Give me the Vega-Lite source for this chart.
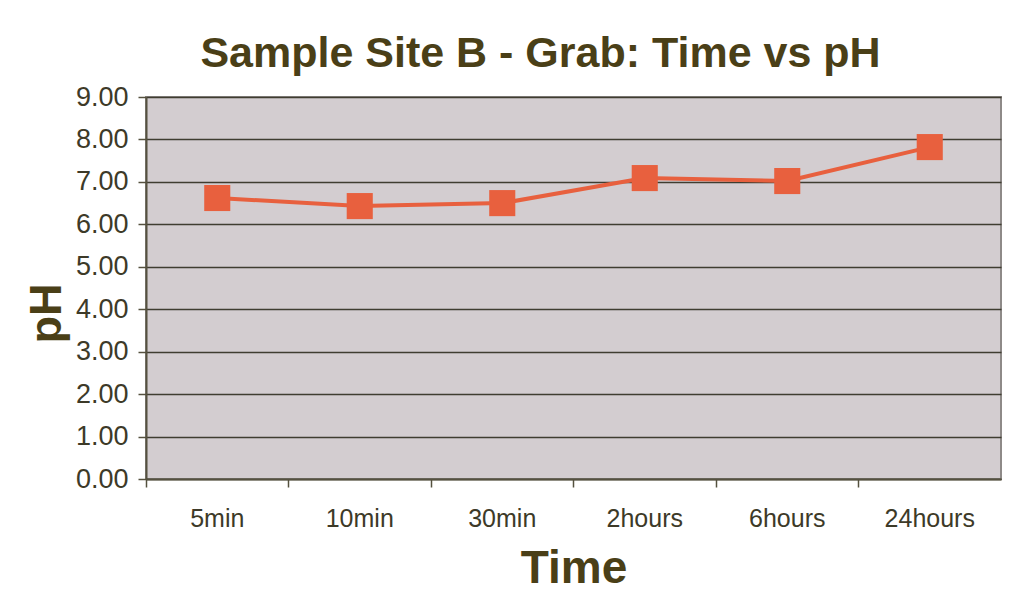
{
  "$schema": "https://vega.github.io/schema/vega-lite/v6.json",
  "autosize": "none",
  "width": 855,
  "height": 382,
  "padding": {"left": 146, "top": 97, "right": 34, "bottom": 129},
  "background": "#ffffff",
  "title": {
    "text": "Sample Site B - Grab: Time vs pH",
    "font": "Liberation Sans",
    "fontSize": 43,
    "fontWeight": "bold",
    "color": "#4a3f17",
    "anchor": "middle",
    "dx": -33,
    "offset": 7
  },
  "config": {
    "view": {"fill": "#d3cdd0", "stroke": "#8e8a88", "strokeWidth": 2},
    "axis": {
      "labelFont": "Liberation Sans",
      "titleFont": "Liberation Sans",
      "labelColor": "#3d3a28",
      "titleColor": "#4a3f17",
      "domainColor": "#55513f",
      "tickColor": "#55513f",
      "gridColor": "#3f3d30",
      "gridOpacity": 1
    }
  },
  "data": {
    "values": [
      {"Time": "5min", "pH": 6.62},
      {"Time": "10min", "pH": 6.43},
      {"Time": "30min", "pH": 6.5},
      {"Time": "2hours", "pH": 7.09},
      {"Time": "6hours", "pH": 7.02},
      {"Time": "24hours", "pH": 7.82}
    ]
  },
  "encoding": {
    "x": {
      "field": "Time",
      "type": "nominal",
      "sort": null,
      "scale": {"type": "band", "paddingInner": 0, "paddingOuter": 0},
      "axis": {
        "title": "Time",
        "titleFontSize": 46,
        "titleFontWeight": "bold",
        "titlePadding": 15,
        "labelAngle": 0,
        "labelFontSize": 25,
        "labelPadding": 19,
        "labelOverlap": false,
        "tickSize": 8,
        "tickWidth": 1.5,
        "bandPosition": 0,
        "domainWidth": 2,
        "grid": false
      }
    },
    "y": {
      "field": "pH",
      "type": "quantitative",
      "scale": {"domain": [0, 9], "nice": false},
      "axis": {
        "title": "pH",
        "titleFontSize": 45,
        "titleFontWeight": "bold",
        "titleAngle": 270,
        "titleX": -100,
        "titleY": 216,
        "titleAlign": "center",
        "titleBaseline": "middle",
        "labelFontSize": 27,
        "labelPadding": 10,
        "labelOverlap": false,
        "labelFlush": false,
        "tickSize": 8,
        "tickWidth": 1.5,
        "values": [0, 1, 2, 3, 4, 5, 6, 7, 8, 9],
        "format": ".2f",
        "domainWidth": 2,
        "grid": true,
        "gridWidth": 1.5
      }
    }
  },
  "layer": [
    {"mark": {"type": "line", "color": "#e8603e", "strokeWidth": 4}},
    {"mark": {"type": "square", "color": "#e8603e", "opacity": 1, "filled": true, "size": 680}}
  ]
}
